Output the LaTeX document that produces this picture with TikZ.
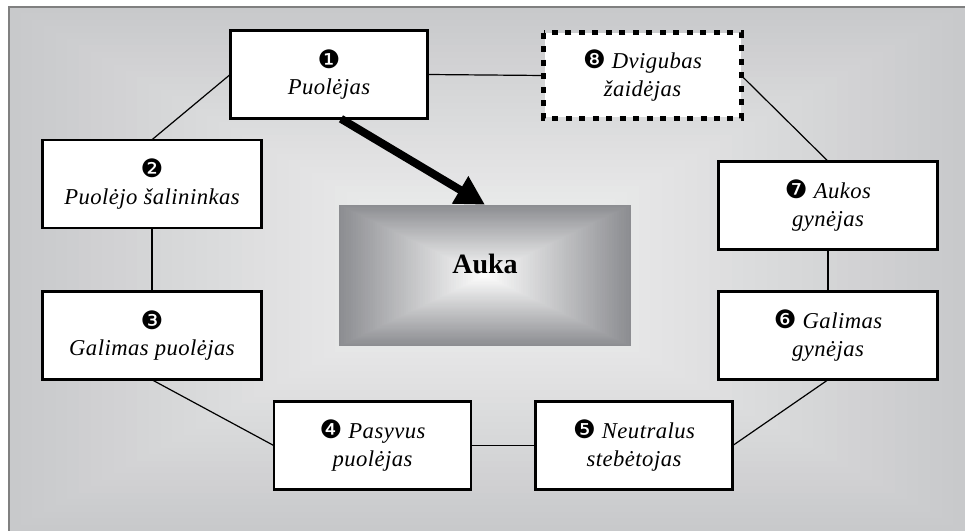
\documentclass[tikz,border=0pt]{standalone}
\usepackage{fontspec}
\setmainfont{Liberation Serif}
\newfontfamily\labelfont[LetterSpace=2]{Liberation Serif}
\newfontfamily\numfont{DejaVu Sans}
\usetikzlibrary{arrows.meta}
\definecolor{bgedge}{RGB}{200,201,203}
\definecolor{bgmid}{RGB}{243,243,243}
\definecolor{akedge}{RGB}{140,141,145}
\definecolor{akmid}{RGB}{252,252,252}
\definecolor{framegray}{RGB}{128,128,128}
\newcommand\nm[1]{{\upshape\numfont\fontsize{19}{21}\selectfont#1}}
% concentric-rectangle gradient: x0 y0 x1 y1 edge centre steps
\newcommand\rectshade[7]{%
  \foreach \i in {0,...,#7}{%
    \pgfmathsetmacro\pc{100*\i/#7}%
    \pgfmathsetmacro\fr{\i/(#7+1)}%
    \fill[#6!\pc!#5]
      ({#1+(#3-#1)/2*\fr},{#2+(#4-#2)/2*\fr}) rectangle
      ({#3-(#3-#1)/2*\fr},{#4-(#4-#2)/2*\fr});
  }%
}
\begin{document}
\begin{tikzpicture}[x=0.75pt,y=-0.75pt,
  rolebox/.style={draw, line width=1.2pt, fill=white, inner sep=0pt, align=center,
    minimum height=65.25pt,
    font=\labelfont\itshape\fontsize{17}{21}\selectfont},
  narrowbox/.style={rolebox, minimum width=147pt},
  widebox/.style={rolebox, minimum width=163.5pt},
  dottedbox/.style={rolebox, draw=none, minimum width=147pt, minimum height=63pt},
  link/.style={line width=0.9pt},
  bigarrow/.style={line width=6pt, -{Triangle[length=21.75pt,width=22.5pt]}}]
\useasboundingbox (0,0) rectangle (965,531);
\begin{scope}
  \clip (0,0) rectangle (965,531);
  \rectshade{9}{7}{965}{531}{bgedge}{bgmid}{40}
  \draw[framegray, line width=0.9pt] (9,540) -- (9,7) -- (975,7);
\end{scope}
% nodes
\node[narrowbox] (b1) at (329,74.5) {\nm{❶}\\[-2pt]Puolėjas};
\node[widebox]   (b2) at (152,184) {\nm{❷}\\[-1pt]Puolėjo šalininkas};
\node[widebox]   (b3) at (152,335.5) {\nm{❸}\\[-1pt]Galimas puolėjas};
\node[narrowbox] (b4) at (372.5,445.5) {\nm{❹} Pasyvus\\puolėjas};
\node[narrowbox] (b5) at (634,445.5) {\nm{❺} Neutralus\\stebėtojas};
\node[widebox]   (b6) at (828,335.5) {\nm{❻} Galimas\\gynėjas};
\node[widebox]   (b7) at (828,205.5) {\nm{❼} Aukos\\gynėjas};
\node[dottedbox] (b8) at (642.5,75.5) {\nm{❽} Dvigubas\\žaidėjas};
% connectors
\draw[link] (b1.west) -- (b2.north);
\draw[link] (b2.south) -- (b3.north);
\draw[link] (b3.south) -- (b4.west);
\draw[link] (b4.east) -- (b5.west);
\draw[link] (b5.east) -- (b6.south);
\draw[link] (b6.north) -- (b7.south);
\draw[link] (b7.north) -- (b8.east);
\draw[link] (b8.west) -- (b1.east);
% box outlines on top of connectors
\foreach \n in {b1,b2,b3,b4,b5,b6,b7}{
  \draw[line width=1.2pt] (\n.north west) rectangle (\n.south east);
}
\draw[line width=3.75pt, dash pattern=on 4.5pt off 5.6pt] (b8.north west) rectangle (b8.south east);
% victim
\rectshade{339}{205}{631}{346}{akedge}{akmid}{60}
\node[inner sep=0pt, minimum width=219pt, minimum height=105.75pt] (auka) at (485,275.5) {};
\node[font=\bfseries\fontsize{21}{24}\selectfont, inner sep=0pt] (aukatxt) at (485,263.5) {Auka};
\draw[bigarrow] ([xshift=9pt]b1.south) -- (auka.north);
\end{tikzpicture}
\end{document}
